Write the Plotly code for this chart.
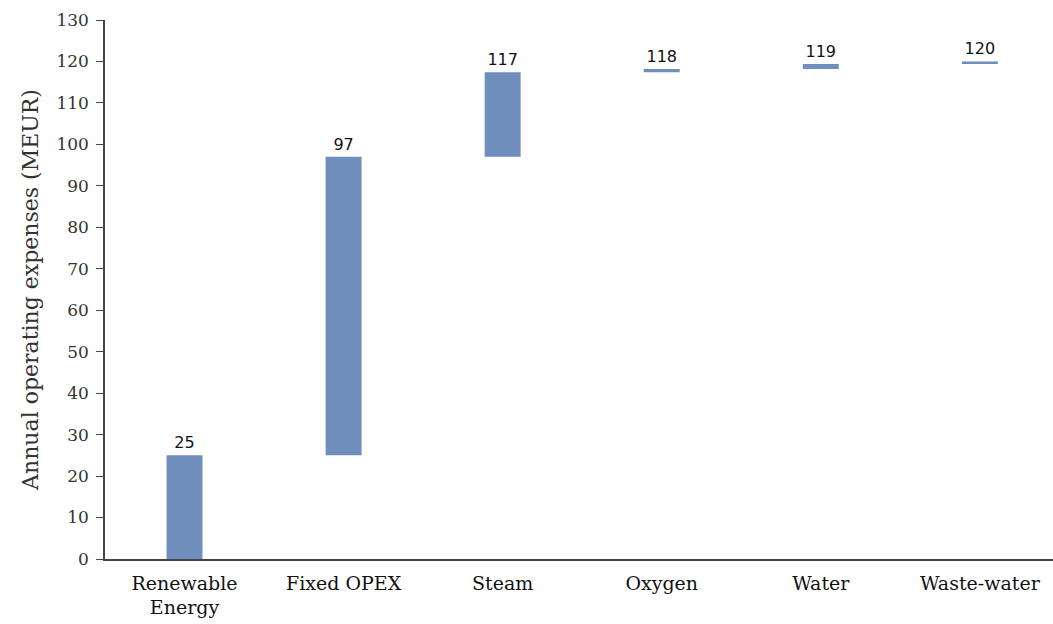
import numpy as np
import plotly.graph_objects as go

# Annual operating expenses breakdown (MEUR), cumulative waterfall
categories = ["Renewable<br>Energy", "Fixed OPEX", "Steam", "Oxygen", "Water", "Waste-water"]
increments = [25.0, 72.0, 20.4, 0.8, 1.2, 0.6]
y_ticks = list(range(0, 131, 10))

inc = np.array(increments)
tops = np.cumsum(inc)
bases = tops - inc
labels = [f"{v:.0f}" for v in tops]

bar_color = "#6f8ebc"
font_family = "DejaVu Serif, Liberation Serif, serif"

fig = go.Figure(
    go.Bar(
        x=categories,
        y=inc,
        base=bases,
        width=0.226,
        marker=dict(color=bar_color, line=dict(width=0)),
        text=labels,
        textposition="outside",
        textfont=dict(family="DejaVu Sans, sans-serif", size=16, color="#111111"),
        cliponaxis=False,
        hoverinfo="skip",
    )
)

fig.update_layout(
    width=1053,
    height=624,
    margin=dict(l=105, r=0, t=20, b=65),
    paper_bgcolor="white",
    plot_bgcolor="white",
    showlegend=False,
    font=dict(family=font_family, color="#222222"),
)

fig.update_xaxes(
    range=[-0.5, 5.46],
    showline=True,
    linecolor="#444444",
    linewidth=1.5,
    ticks="",
    showgrid=False,
    ticklabelstandoff=6,
    tickfont=dict(family=font_family, size=19, color="#111111"),
    fixedrange=True,
)

fig.update_yaxes(
    range=[0, 130],
    tickvals=y_ticks,
    showline=True,
    linecolor="#444444",
    linewidth=1.5,
    ticks="outside",
    ticklen=7,
    tickcolor="#444444",
    showgrid=False,
    zeroline=False,
    ticklabelstandoff=4,
    tickfont=dict(family=font_family, size=17, color="#333333"),
    title=dict(
        text="Annual operating expenses (MEUR)",
        font=dict(family=font_family, size=22, color="#333333"),
        standoff=12,
    ),
    fixedrange=True,
)

fig.write_html("out.html")
